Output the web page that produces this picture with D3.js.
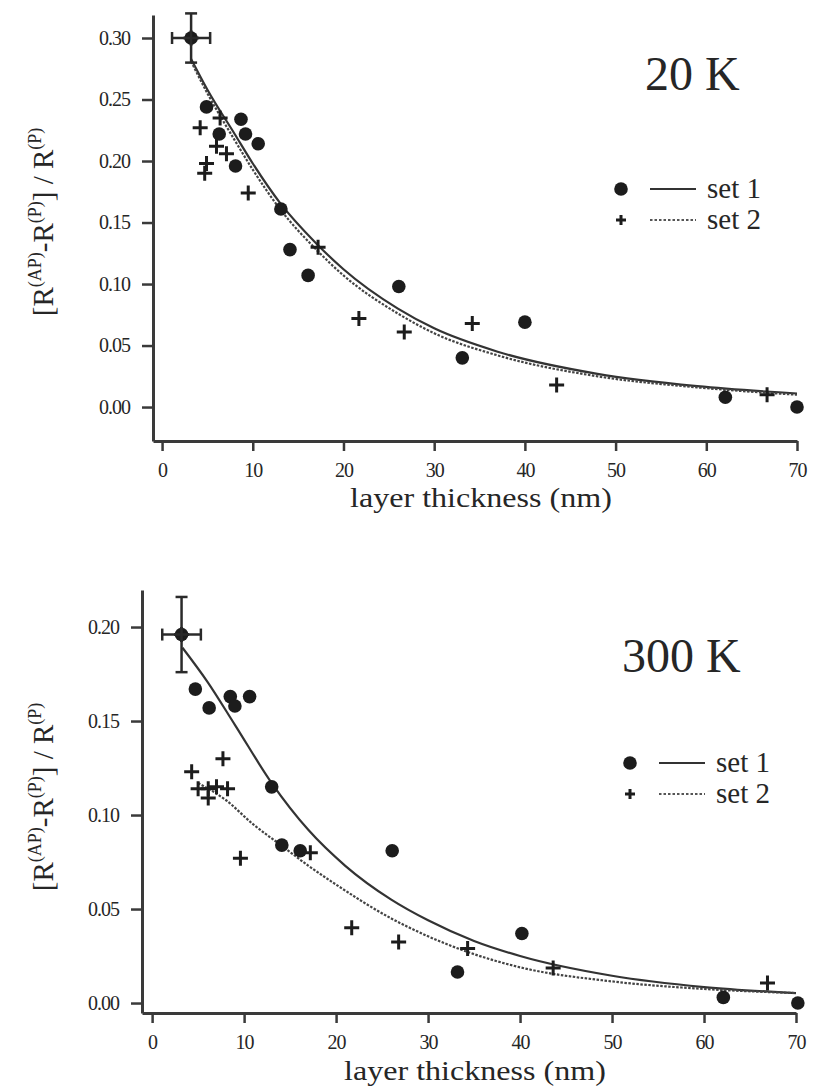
<!DOCTYPE html>
<html>
<head>
<meta charset="utf-8">
<script src="https://cdn.jsdelivr.net/npm/d3@7"></script>
<style>
  body { margin: 0; background: #fff; }
  svg text { font-family: "Liberation Serif", "Times New Roman", serif; fill: #262626; }
</style>
</head>
<body>
<div id="chart"></div>
<script>
// --- Data ---
const xTicks = [0, 10, 20, 30, 40, 50, 60, 70];
const yTicksTop = [0.00, 0.05, 0.10, 0.15, 0.20, 0.25, 0.30];
const yTicksBottom = [0.00, 0.05, 0.10, 0.15, 0.20];

// 20 K, set 1 (circles)
const t20Set1 = [3.2, 4.9, 6.3, 8.1, 8.7, 9.2, 10.6, 13.1, 14.1, 16.1, 26.1, 33.1, 40.0, 62.1, 70.0];
const v20Set1 = [0.300, 0.244, 0.222, 0.196, 0.234, 0.222, 0.214, 0.161, 0.128, 0.107, 0.098, 0.040, 0.069, 0.008, 0.000];
// 20 K, set 2 (crosses)
const t20Set2 = [3.2, 4.2, 4.7, 4.9, 6.0, 6.4, 7.1, 9.5, 17.2, 21.7, 26.7, 34.2, 43.5, 66.7];
const v20Set2 = [0.300, 0.227, 0.190, 0.198, 0.212, 0.235, 0.206, 0.174, 0.130, 0.072, 0.061, 0.068, 0.018, 0.010];
// 20 K fit curves
const t20Fit = [3.2, 5, 8, 10, 13, 17, 20, 26, 30, 37, 48, 59, 70];
const v20Fit1 = [0.283, 0.258, 0.222, 0.198, 0.166, 0.133, 0.112, 0.080, 0.064, 0.045, 0.027, 0.017, 0.011];
const v20Fit2 = [0.281, 0.255, 0.217, 0.193, 0.161, 0.128, 0.107, 0.076, 0.060, 0.042, 0.025, 0.016, 0.010];

// 300 K, set 1 (circles)
const t300Set1 = [3.2, 4.7, 6.2, 8.5, 9.0, 10.6, 13.0, 14.1, 16.1, 26.1, 33.2, 40.2, 62.1, 70.2];
const v300Set1 = [0.196, 0.167, 0.157, 0.163, 0.158, 0.163, 0.115, 0.084, 0.081, 0.081, 0.0165, 0.037, 0.003, 0.000];
// 300 K, set 2 (crosses)
const t300Set2 = [3.2, 4.3, 5.0, 6.1, 6.1, 7.0, 7.7, 8.2, 9.6, 17.2, 21.7, 26.8, 34.3, 43.6, 66.9];
const v300Set2 = [0.196, 0.123, 0.114, 0.114, 0.109, 0.115, 0.130, 0.114, 0.077, 0.080, 0.040, 0.0325, 0.029, 0.0186, 0.0106];
// 300 K fit curves
const t300Fit1 = [3.3, 6, 9, 13, 17, 21, 26, 30, 35, 40, 50, 60, 70];
const v300Fit1 = [0.189, 0.171, 0.148, 0.117, 0.092, 0.073, 0.055, 0.044, 0.033, 0.025, 0.0145, 0.0085, 0.0053];
const t300Fit2 = [5, 8, 11, 14, 17, 20, 26, 30, 35, 40, 50, 60, 70];
const v300Fit2 = [0.117, 0.108, 0.095, 0.084, 0.073, 0.063, 0.045, 0.0355, 0.026, 0.019, 0.0115, 0.0075, 0.0053];

// error bar on the first point of each panel: [t, v, dt, dv]
const err20 = [3.2, 0.300, 2.1, 0.02];
const err300 = [3.2, 0.196, 2.1, 0.02];

const zip = (ts, vs) => ts.map((t, i) => ({ t, v: vs[i] }));

// --- SVG ---
const W = 819, H = 1092;
const svg = d3.select("#chart").append("svg")
  .attr("width", W).attr("height", H)
  .attr("viewBox", `0 0 ${W} ${H}`);

const ink = "#1c1c1c";
const axisInk = "#3a3a3a";

const panels = [
  {
    title: "20 K", titleX: 645, titleY: 90,
    left: 153, right: 797, top: 15, bottom: 441,
    xDomain: [-1, 70], yDomain: [-0.0276, 0.3187], yTicks: yTicksTop,
    set1: zip(t20Set1, v20Set1), set2: zip(t20Set2, v20Set2),
    fit1: zip(t20Fit, v20Fit1), fit2: zip(t20Fit, v20Fit2),
    err: err20,
    legendX: 621, legendY: 189,
    yLabelX: 53, yLabelY: 222, xLabelY: 507
  },
  {
    title: "300 K", titleX: 622, titleY: 672,
    left: 142, right: 796, top: 590, bottom: 1013,
    xDomain: [-1.1, 70], yDomain: [-0.0053, 0.2197], yTicks: yTicksBottom,
    set1: zip(t300Set1, v300Set1), set2: zip(t300Set2, v300Set2),
    fit1: zip(t300Fit1, v300Fit1), fit2: zip(t300Fit2, v300Fit2),
    err: err300,
    legendX: 630, legendY: 763,
    yLabelX: 53, yLabelY: 797, xLabelY: 1080
  }
];

const plusPath = s => `M${-s},0H${s}M0,${-s}V${s}`;

panels.forEach(p => {
  const g = svg.append("g");
  const x = d3.scaleLinear().domain(p.xDomain).range([p.left, p.right]);
  const y = d3.scaleLinear().domain(p.yDomain).range([p.bottom, p.top]);

  // axes
  const ax = g.append("g")
    .attr("transform", `translate(0,${p.bottom})`)
    .call(d3.axisBottom(x).tickValues(xTicks).tickSize(10).tickSizeOuter(0).tickPadding(12));
  const ay = g.append("g")
    .attr("transform", `translate(${p.left},0)`)
    .call(d3.axisLeft(y).tickValues(p.yTicks).tickFormat(d3.format(".2f"))
      .tickSize(11).tickSizeOuter(0).tickPadding(12));
  [ax, ay].forEach(a => {
    a.attr("font-family", null).attr("font-size", null);
    a.select(".domain").attr("stroke", axisInk).attr("stroke-width", 3);
    a.selectAll(".tick line").attr("stroke", axisInk).attr("stroke-width", 2.5);
    a.selectAll(".tick text").style("font-size", "20px").style("letter-spacing", "-1px");
  });

  // axis labels
  g.append("text")
    .attr("x", (p.left + p.right) / 2 + 6)
    .attr("y", p.xLabelY)
    .attr("text-anchor", "middle")
    .attr("textLength", 262)
    .attr("lengthAdjust", "spacingAndGlyphs")
    .style("font-size", "27px")
    .text("layer thickness (nm)");

  const yl = g.append("text")
    .attr("transform", `translate(${p.yLabelX},${p.yLabelY}) rotate(-90)`)
    .attr("text-anchor", "middle")
    .style("font-size", "29px");
  yl.append("tspan").text("[R");
  yl.append("tspan").attr("dy", -12).style("font-size", "18px").text("(AP)");
  yl.append("tspan").attr("dy", 12).text("-R");
  yl.append("tspan").attr("dy", -12).style("font-size", "18px").text("(P)");
  yl.append("tspan").attr("dy", 12).text("] / R");
  yl.append("tspan").attr("dy", -12).style("font-size", "18px").text("(P)");

  // title
  g.append("text")
    .attr("x", p.titleX).attr("y", p.titleY)
    .style("font-size", "48px")
    .text(p.title);

  // fit curves
  const line = d3.line().x(d => x(d.t)).y(d => y(d.v)).curve(d3.curveMonotoneX);
  g.append("path").datum(p.fit1)
    .attr("d", line).attr("fill", "none")
    .attr("stroke", "#333").attr("stroke-width", 2.2);
  g.append("path").datum(p.fit2)
    .attr("d", line).attr("fill", "none")
    .attr("stroke", "#444").attr("stroke-width", 2.2)
    .attr("stroke-dasharray", "2.5,1.5");

  // markers
  g.selectAll(".s1").data(p.set1).join("circle")
    .attr("cx", d => x(d.t)).attr("cy", d => y(d.v))
    .attr("r", 6.8).attr("fill", ink);
  g.selectAll(".s2").data(p.set2).join("path")
    .attr("transform", d => `translate(${x(d.t)},${y(d.v)})`)
    .attr("d", plusPath(7.5)).attr("stroke", ink).attr("stroke-width", 3);

  // error bars
  const [et, ev, dt, dv] = p.err;
  const eb = g.append("g").attr("stroke", "#2a2a2a").attr("stroke-width", 2.5);
  eb.append("line").attr("x1", x(et - dt)).attr("x2", x(et + dt)).attr("y1", y(ev)).attr("y2", y(ev));
  eb.append("line").attr("x1", x(et)).attr("x2", x(et)).attr("y1", y(ev - dv)).attr("y2", y(ev + dv));
  [et - dt, et + dt].forEach(t =>
    eb.append("line").attr("x1", x(t)).attr("x2", x(t)).attr("y1", y(ev) - 6).attr("y2", y(ev) + 6));
  [ev - dv, ev + dv].forEach(v =>
    eb.append("line").attr("x1", x(et) - 6).attr("x2", x(et) + 6).attr("y1", y(v)).attr("y2", y(v)));

  // legend
  const lg = g.append("g").attr("transform", `translate(${p.legendX},${p.legendY})`);
  lg.append("circle").attr("cx", 0).attr("cy", 0).attr("r", 6.8).attr("fill", ink);
  lg.append("line").attr("x1", 29).attr("x2", 75).attr("y1", 0).attr("y2", 0)
    .attr("stroke", "#333").attr("stroke-width", 2.2);
  lg.append("text").attr("x", 86).attr("y", 9).style("font-size", "29px").text("set 1");
  lg.append("path").attr("transform", "translate(0,31)").attr("d", plusPath(5))
    .attr("stroke", ink).attr("stroke-width", 3);
  lg.append("line").attr("x1", 29).attr("x2", 75).attr("y1", 31).attr("y2", 31)
    .attr("stroke", "#555").attr("stroke-width", 2).attr("stroke-dasharray", "2.5,2");
  lg.append("text").attr("x", 86).attr("y", 40).style("font-size", "29px").text("set 2");
});
</script>
</body>
</html>
